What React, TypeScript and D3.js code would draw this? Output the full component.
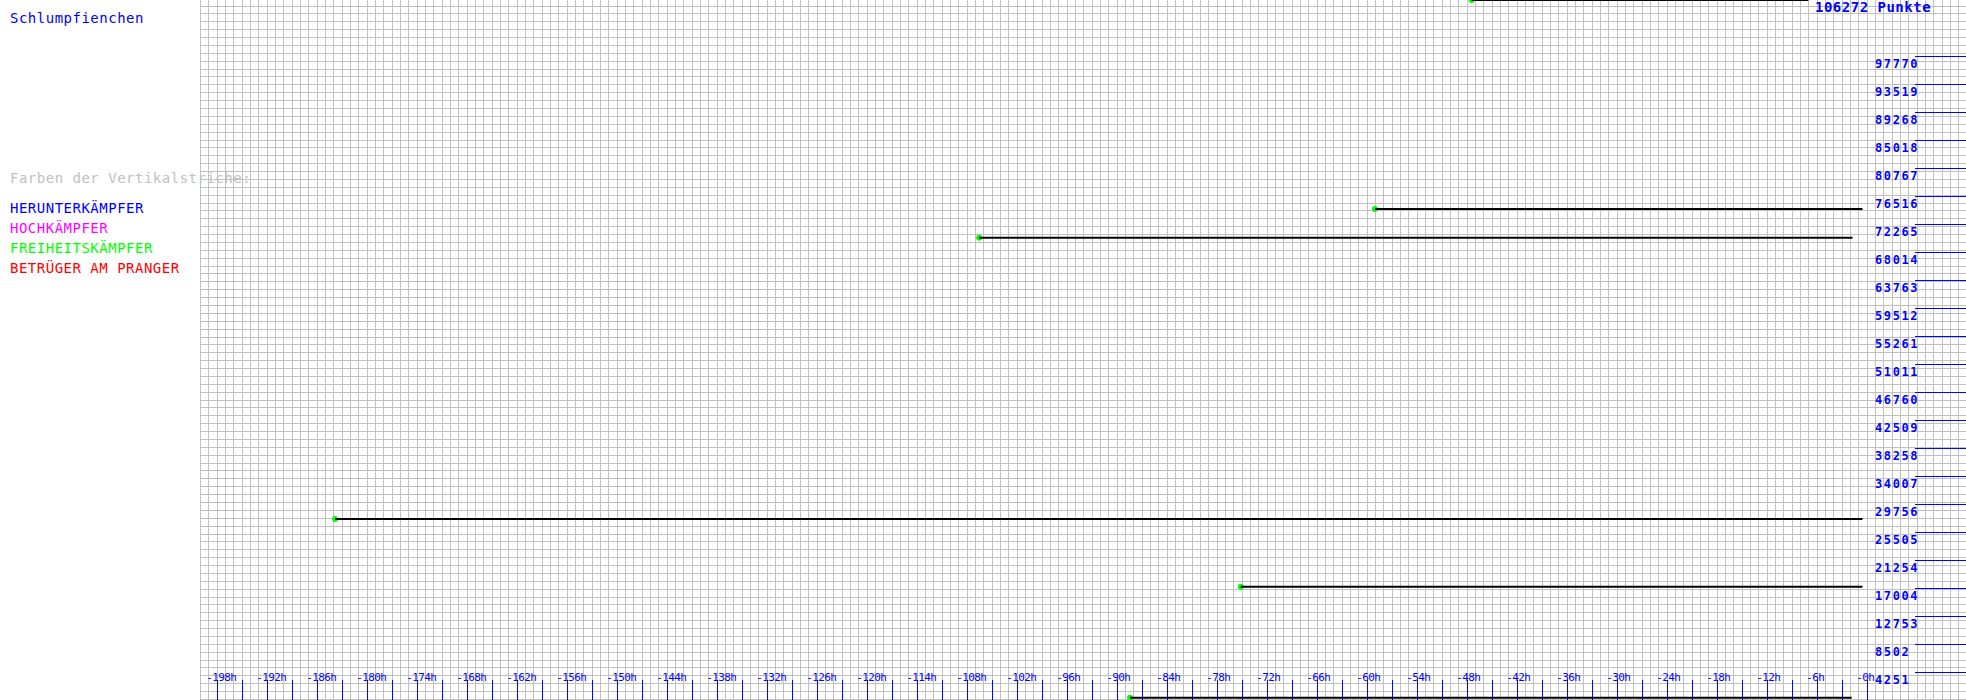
import React from "react";
import * as d3 from "d3";

const W = 1966;
const H = 700;

// Data
const maxPoints = 106272;
const yTickLabels = [
  "4251", "8502", "12753", "17004", "21254", "25505", "29756", "34007",
  "38258", "42509", "46760", "51011", "55261", "59512", "63763", "68014",
  "72265", "76516", "80767", "85018", "89268", "93519", "97770",
];
const lineStartHours = [-47.4, -59.0, -106.5, -183.8, -75.1, -88.4];
const lineEndHours = [-7.0, -0.5, -1.7, -0.5, -0.5, -1.8];
const lineValues = [106272, 74543, 70186, 27479, 17201, 349];

const legendItems = ["HERUNTERKÄMPFER", "HOCHKÄMPFER", "FREIHEITSKÄMPFER", "BETRÜGER AM PRANGER"];
const legendColors = ["#0000ff", "#ff00ff", "#00ff00", "#ff0000"];

const MONO = "'DejaVu Sans Mono', monospace";

export default function App() {
  const x = d3.scaleLinear().domain([-198, 0]).range([216.67, 1866.67]);
  const y = d3.scaleLinear().domain([0, maxPoints]).range([H, 0]);

  const gridLeft = 200;
  const vGrid = d3.range(-200, 13, 1).map((h) => Math.round(x(h)) + 0.5).filter((v) => v >= gridLeft && v <= W);
  const hGrid = d3.range(0, 90).map((k) => Math.round(H - k * 7.88) - 0.5).filter((v) => v >= 0);

  const xTicks = d3.range(-198, 1, 3);
  const xLabels = d3.range(-198, 1, 6);

  return (
    <svg
      width={W}
      height={H}
      style={{ position: "absolute", left: 0, top: 0, background: "#fff" }}
      xmlns="http://www.w3.org/2000/svg"
    >
      <rect x={0} y={0} width={W} height={H} fill="#fff" />
      {/* grid */}
      <g stroke="#c0c0c0" strokeWidth={1} shapeRendering="crispEdges">
        {vGrid.map((gx, i) => (
          <line key={"v" + i} x1={gx} x2={gx} y1={0} y2={H} />
        ))}
        {hGrid.map((gy, i) => (
          <line key={"h" + i} x1={gridLeft} x2={W} y1={gy} y2={gy} />
        ))}
      </g>

      {/* left texts */}
      <text x={10} y={23} fontFamily={MONO} fontSize={14} letterSpacing={0.5} fill="#0000ff">
        Schlumpfienchen
      </text>
      <text x={10} y={183} fontFamily={MONO} fontSize={14} letterSpacing={0.5} fill="#c0c0c0">
        Farben der Vertikalstriche:
      </text>
      {legendItems.map((t, i) => (
        <text key={t} x={10} y={213 + i * 20} fontFamily={MONO} fontSize={14} letterSpacing={0.5} fill={legendColors[i]}>
          {t}
        </text>
      ))}

      {/* y axis on right */}
      <g>
        {yTickLabels.map((lab) => {
          const yy = Math.round(y(+lab)) + 0.5;
          return (
            <g key={lab}>
              <line x1={1915} x2={W} y1={yy} y2={yy} stroke="#0000ff" strokeWidth={1} shapeRendering="crispEdges" />
              <text x={1875} y={yy + 11.5} fontFamily={MONO} fontSize={12} fontWeight="bold" letterSpacing={1.6} fill="#0000ff">
                {lab}
              </text>
            </g>
          );
        })}
        <text x={1815} y={12} fontFamily={MONO} fontSize={14} fontWeight="bold" letterSpacing={0.5} fill="#0000ff">
          {maxPoints} Punkte
        </text>
      </g>

      {/* x axis */}
      <g>
        {xTicks.map((h) => {
          const xx = Math.round(x(h)) + 0.5;
          return (
            <line key={h} x1={xx} x2={xx} y1={680} y2={H} stroke="#0000ff" strokeWidth={1} shapeRendering="crispEdges" />
          );
        })}
        {xLabels.map((h) => (
          <text key={h} x={x(h) - 10.5} y={680.5} fontFamily={MONO} fontSize={11} letterSpacing={-0.6} fill="#0000ff">
            {"-" + Math.abs(h) + "h"}
          </text>
        ))}
      </g>

      {/* data lines */}
      <g>
        {lineValues.map((v, i) => (
          <g key={i}>
            <circle cx={x(lineStartHours[i])} cy={y(v)} r={3} fill="#00ff00" />
            <line
              x1={x(lineStartHours[i])}
              x2={x(lineEndHours[i])}
              y1={y(v)}
              y2={y(v)}
              stroke="#000"
              strokeWidth={2}
            />
          </g>
        ))}
      </g>
    </svg>
  );
}
